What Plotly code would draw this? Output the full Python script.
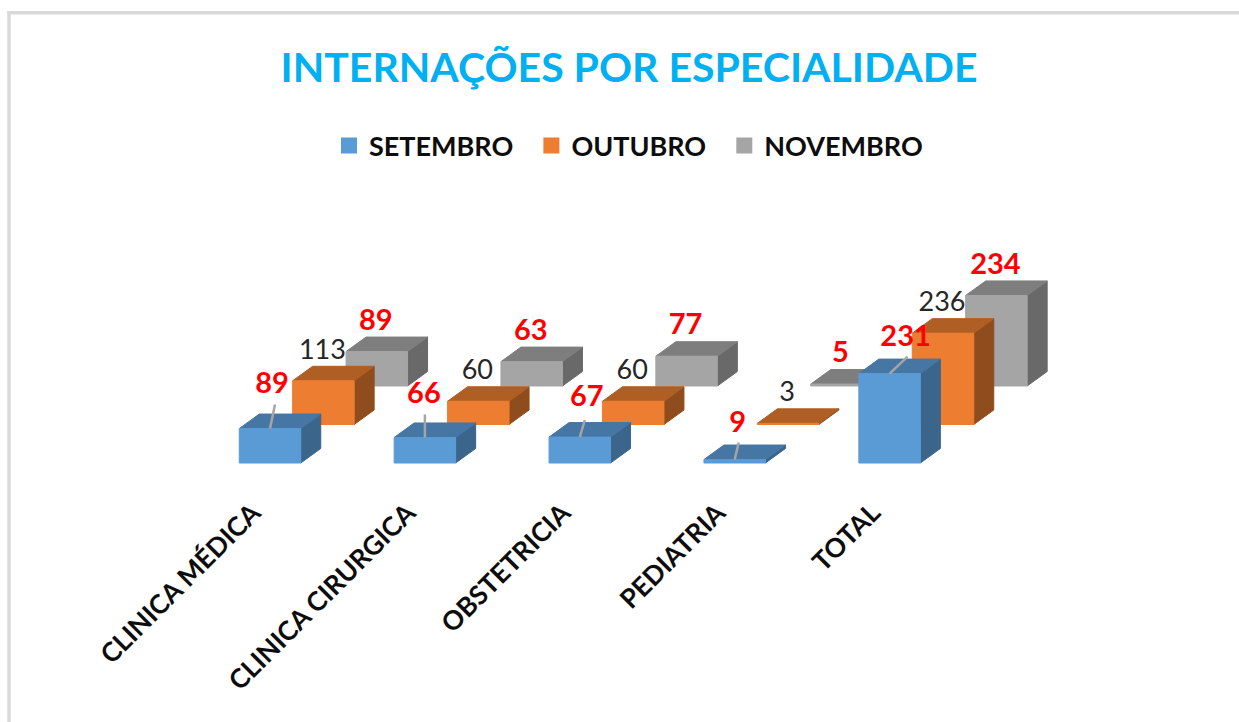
import plotly.graph_objects as go

categories = ["CLINICA MÉDICA", "CLINICA CIRURGICA", "OBSTETRICIA", "PEDIATRIA", "TOTAL"]
setembro = [89, 66, 67, 9, 231]
outubro = [113, 60, 60, 3, 236]
novembro = [89, 63, 77, 5, 234]
series_names = ["SETEMBRO", "OUTUBRO", "NOVEMBRO"]
title_text = "INTERNAÇÕES POR ESPECIALIDADE"

W, H = 1239, 722
PX_X = 154.9          # pixels per category step
PX_Y = 0.387          # pixels per value unit
X0_PX, BASE_PX = 270.0, 463.0


def ux(px):
    return px / PX_X


def uy(px):
    return px / PX_Y


BAR_W = ux(61.5)
DEPTH_X, DEPTH_Y = ux(20), uy(14.5)
SERIES_DX, SERIES_DY = ux(53.4), uy(38.5)

front_cols = ["#5B9BD5", "#ED7D31", "#A5A5A5"]
top_cols = ["#4676A3", "#AF5E24", "#7E7E7E"]
side_cols = ["#3C658B", "#8F4D1D", "#696969"]

# label offsets in pixels from the top-centre of each blue bar
blue_label_off = [(2, 43), (-1, 42), (7, 38), (3, 35), (16, 35)]
blue_leader_end = [(5, 24), (0, 23), (5, 17), (4, 17), (18, 17)]
LABEL_DY = 29

fig = go.Figure()
all_series = [setembro, outubro, novembro]


def add_poly(xs, ys, color):
    fig.add_trace(go.Scatter(x=xs, y=ys, mode="lines", fill="toself", fillcolor=color,
                             line=dict(color=color, width=1), hoverinfo="skip", showlegend=False))


# back rows are drawn first so that front rows cover them
for s in [2, 1, 0]:
    fx, fy, tx, ty, sx, sy = [], [], [], [], [], []
    for i, v in enumerate(all_series[s]):
        left = i - BAR_W / 2 + s * SERIES_DX
        right = left + BAR_W
        base = s * SERIES_DY
        top = base + v
        fx += [left, right, right, left, left, None]
        fy += [base, base, top, top, base, None]
        tx += [left, right, right + DEPTH_X, left + DEPTH_X, left, None]
        ty += [top, top, top + DEPTH_Y, top + DEPTH_Y, top, None]
        sx += [right, right + DEPTH_X, right + DEPTH_X, right, right, None]
        sy += [base, base + DEPTH_Y, top + DEPTH_Y, top, base, None]
    add_poly(sx, sy, side_cols[s])
    add_poly(tx, ty, top_cols[s])
    add_poly(fx, fy, front_cols[s])

# leader lines of the blue labels
lx, ly = [], []
for i, v in enumerate(setembro):
    ex, ey = blue_leader_end[i]
    lx += [i, i + ux(ex), None]
    ly += [v, v + uy(ey), None]
fig.add_trace(go.Scatter(x=lx, y=ly, mode="lines", line=dict(color="#A5A5A5", width=2.5),
                         hoverinfo="skip", showlegend=False))

# data labels
for s, vals in enumerate(all_series):
    if s == 0:
        xs = [i + ux(blue_label_off[i][0]) for i in range(len(vals))]
        ys = [v + uy(blue_label_off[i][1]) for i, v in enumerate(vals)]
    else:
        xs = [i + s * SERIES_DX - ux(1) for i in range(len(vals))]
        ys = [v + s * SERIES_DY + uy(LABEL_DY) for v in vals]
    if s == 1:
        font = dict(family="Lato", size=27, color="#262626")
    else:
        font = dict(family="Lato", size=29, color="#FF0000", weight="bold")
    fig.add_trace(go.Scatter(x=xs, y=ys, mode="text", text=[str(v) for v in vals],
                             textposition="middle center", textfont=font,
                             hoverinfo="skip", showlegend=False))

# legend entries
for s, name in enumerate(series_names):
    fig.add_trace(go.Scatter(x=[None], y=[None], mode="markers", name=name + "\u00a0" * 2,
                             marker=dict(symbol="square", size=16, color=front_cols[s])))

fig.update_layout(
    width=W, height=H, autosize=False,
    margin=dict(l=0, r=0, t=0, b=0),
    paper_bgcolor="white", plot_bgcolor="white",
    title=dict(text=title_text, x=629 / W, xanchor="center", y=1 - 68 / H, yanchor="middle",
               font=dict(family="Lato", size=41, color="#00B0F0", weight="bold")),
    legend=dict(orientation="h", x=329 / W, xanchor="left", y=1 - 146 / H, yanchor="middle",
                font=dict(family="Lato", size=27, color="#0D0D0D", weight="bold"),
                bgcolor="rgba(0,0,0,0)", itemwidth=30),
    xaxis=dict(range=[ux(-X0_PX), ux(W - X0_PX)], showgrid=False, zeroline=False, showline=False,
               ticks="", tickmode="array", tickvals=[i - ux(17) for i in range(5)], ticktext=categories,
               tickangle=-45, tickfont=dict(family="Lato", size=26.5, color="#0D0D0D", weight="bold"),
               anchor="free", position=1 - 491 / H, fixedrange=True),
    yaxis=dict(range=[uy(BASE_PX - H), uy(BASE_PX)], visible=False, fixedrange=True),
    shapes=[
        dict(type="line", xref="paper", yref="paper", x0=9 / W, x1=9 / W, y0=0, y1=1 - 11 / H,
             line=dict(color="#D9D9D9", width=3.4)),
        dict(type="line", xref="paper", yref="paper", x0=7.3 / W, x1=1, y0=1 - 12.7 / H, y1=1 - 12.7 / H,
             line=dict(color="#D9D9D9", width=3.4)),
    ],
)

fig.write_html("out.html", post_script="document.body.style.margin='0';",
               config={"displayModeBar": False})
